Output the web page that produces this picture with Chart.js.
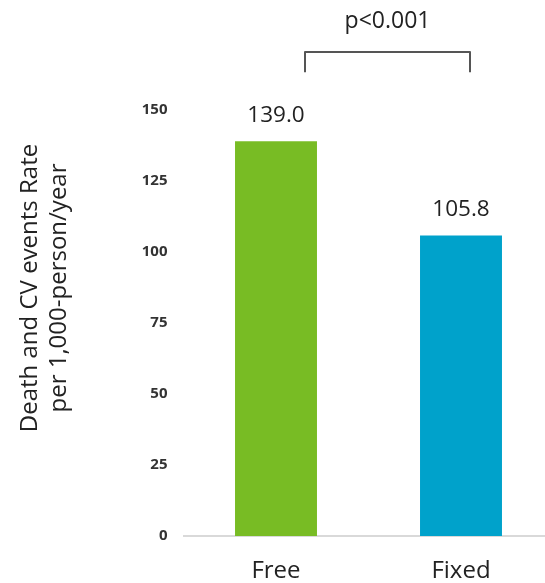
<!DOCTYPE html>
<html>
<head>
<meta charset="utf-8">
<script src="https://cdn.jsdelivr.net/npm/chart.js@4"></script>
<style>
  html, body { margin: 0; padding: 0; background: #fff; overflow: hidden; }
  #wrap { width: 560px; height: 583px; }
</style>
</head>
<body>
<div id="wrap"><canvas id="rateChart"></canvas></div>
<script>
const categories = ["Free", "Fixed"];
const rates = [139.0, 105.8];
const barColors = ["#78BC24", "#00A2CB"];
const axisTitle = ["Death and CV events Rate", "per 1,000-person/year"];
const pLabel = "p<0.001";

const FONT = "'Open Sans', 'Noto Sans', sans-serif";

// value labels above bars + the p-value bracket + rotated y title
const extras = {
  id: "extras",
  afterDraw(chart) {
    const ctx = chart.ctx;
    const x = chart.scales.x, y = chart.scales.y;
    ctx.save();
    ctx.fillStyle = "#222";
    ctx.textAlign = "center";
    ctx.textBaseline = "alphabetic";
    ctx.font = "22.5px " + FONT;
    rates.forEach((v, i) => {
      ctx.fillText(v.toFixed(1), x.getPixelForValue(i), y.getPixelForValue(v) - 19.5);
    });

    // bracket
    const x1 = x.getPixelForValue(0) + 29, x2 = x.getPixelForValue(1) + 9;
    const top = y.getPixelForValue(170.4), bot = y.getPixelForValue(163.3);
    ctx.strokeStyle = "#555";
    ctx.lineWidth = 2;
    ctx.lineJoin = "round";
    ctx.beginPath();
    ctx.moveTo(x1, bot);
    ctx.lineTo(x1, top);
    ctx.lineTo(x2, top);
    ctx.lineTo(x2, bot);
    ctx.stroke();
    ctx.font = "23px " + FONT;
    ctx.fillText(pLabel, (x1 + x2) / 2, y.getPixelForValue(178.9));

    // y title
    ctx.font = "24px " + FONT;
    ctx.translate(0, 288);
    ctx.rotate(-Math.PI / 2);
    ctx.fillText(axisTitle[0], 0, 37);
    ctx.fillText(axisTitle[1], 0, 66);
    ctx.restore();
  }
};

new Chart(document.getElementById("rateChart"), {
  type: "bar",
  data: {
    labels: categories,
    datasets: [{
      data: rates,
      backgroundColor: barColors,
      barPercentage: 0.443,
      categoryPercentage: 1,
    }],
  },
  options: {
    responsive: true,
    maintainAspectRatio: false,
    animation: false,
    layout: { padding: { top: 110, right: 6.5, left: 0, bottom: 0 } },
    plugins: { legend: { display: false }, tooltip: { enabled: false } },
    scales: {
      x: {
        grid: { display: false, drawTicks: false },
        border: { color: "#d9d9d9", width: 2 },
        ticks: { color: "#222", font: { family: FONT, size: 24 }, padding: 21 },
        afterFit(s) { s.height = 47; },
      },
      y: {
        min: 0, max: 150,
        grid: { display: false, drawTicks: false },
        border: { display: false },
        ticks: { stepSize: 25, color: "#333", font: { family: FONT, size: 15, weight: "bold" }, padding: 16 },
        afterFit(s) { s.width = 183.5; },
      },
    },
  },
  plugins: [extras],
});
</script>
</body>
</html>
